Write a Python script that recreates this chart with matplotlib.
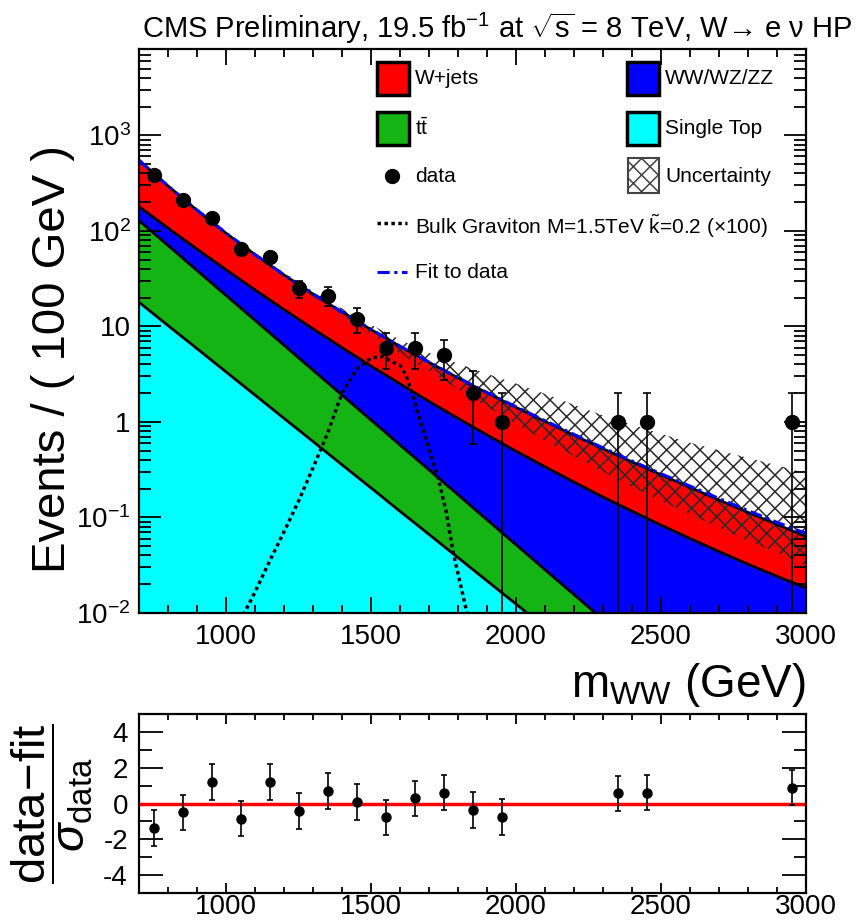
import numpy as np
import matplotlib
matplotlib.use("Agg")
import matplotlib.pyplot as plt
from matplotlib.patches import Rectangle
from matplotlib.lines import Line2D
from matplotlib.ticker import FixedLocator, LogLocator, FuncFormatter, MultipleLocator, NullFormatter

plt.rcParams['font.family'] = ['Liberation Sans', 'DejaVu Sans']
plt.rcParams['mathtext.fontset'] = 'custom'
plt.rcParams['mathtext.rm'] = 'Liberation Sans'
plt.rcParams['mathtext.it'] = 'Liberation Sans:italic'
plt.rcParams['mathtext.bf'] = 'Liberation Sans:bold'
plt.rcParams['hatch.linewidth'] = 1.1
plt.rcParams['axes.unicode_minus'] = False

# mass grid of the background curves (GeV)
mass = [700, 800, 900, 1000, 1100, 1200, 1300, 1400, 1500, 1600, 1700, 1800,
        1900, 2000, 2100, 2200, 2300, 2400, 2500, 2600, 2700, 2800, 2900, 3000]

# background components (events / 100 GeV)
single_top = [17.9, 10.2, 5.85, 3.34, 1.91, 1.09, 0.624, 0.356, 0.204, 0.116, 0.0665, 0.0380,
              0.0217, 0.0124, 0.0071, 0.00406, 0.00232, 0.00132, 7.6e-4, 4.3e-4, 2.5e-4, 1.4e-4, 8.1e-5, 4.6e-5]
ttbar = [110.1, 60.1, 32.65, 17.76, 9.69, 5.26, 2.856, 1.554, 0.843, 0.458, 0.2485, 0.135,
         0.0729, 0.0395, 0.0213, 0.01154, 0.00623, 0.00337, 0.00181, 9.8e-4, 5.2e-4, 2.8e-4, 1.49e-4, 8.1e-5]
diboson = [51.5, 36.6, 25.9, 18.1, 12.5, 8.65, 5.95, 4.08, 2.80, 1.93, 1.325, 0.916,
           0.636, 0.443, 0.311, 0.219, 0.155, 0.1116, 0.0806, 0.0588, 0.0432, 0.0320, 0.0240, 0.0182]
wjets = [370.5, 188.1, 99.6, 55.2, 32.1, 19.5, 12.37, 8.11, 5.40, 3.68, 2.56, 1.80,
         1.28, 0.925, 0.671, 0.489, 0.360, 0.265, 0.196, 0.146, 0.108, 0.0806, 0.0601, 0.0449]

fit = [545, 295, 165, 95, 56.5, 34.6, 21.9, 14.1, 9.3, 6.2, 4.22, 2.9,
       2.03, 1.44, 1.03, 0.74, 0.535, 0.39, 0.287, 0.213, 0.158, 0.118, 0.089, 0.068]
unc_up = [562, 302, 168.7, 97.7, 58.9, 36.6, 23.3, 15.4, 10.4, 7.26, 5.28, 4.08,
          3.19, 2.52, 1.97, 1.51, 1.17, 0.935, 0.752, 0.607, 0.504, 0.420, 0.352, 0.289]
unc_down = [537, 288, 159.6, 91.2, 54.3, 33.0, 20.6, 13.0, 8.24, 5.20, 3.41, 2.19,
            1.44, 0.959, 0.637, 0.437, 0.301, 0.209, 0.150, 0.108, 0.078, 0.0573, 0.0428, 0.0317]

# signal (x100)
grav_mass = [1060, 1100, 1150, 1200, 1250, 1300, 1350, 1400, 1450, 1500, 1540, 1580,
             1600, 1620, 1640, 1660, 1700, 1732, 1760, 1784, 1810, 1830, 1845]
grav_val = [0.00955, 0.0166, 0.0347, 0.0708, 0.148, 0.331, 0.759, 2.0, 3.55, 4.68, 4.84, 4.17,
            3.9, 3.1, 2.1, 1.29, 0.525, 0.257, 0.112, 0.042, 0.019, 0.0103, 0.0063]

# data
data_mass = [750, 850, 950, 1050, 1150, 1250, 1350, 1450, 1550, 1650, 1750, 1850, 1950, 2350, 2450, 2950]
data_counts = [386, 211, 136, 65, 53, 25, 21, 12, 6, 6, 5, 2, 1, 1, 1, 1]
pulls = [-1.36, -0.50, 1.21, -0.84, 1.21, -0.43, 0.69, 0.09, -0.78, 0.28, 0.61, -0.35,
         -0.76, 0.56, 0.61, 0.89]

m = np.array(mass, dtype=float)
c1 = np.array(single_top)
c2 = c1 + np.array(ttbar)
c3 = c2 + np.array(diboson)
c4 = c3 + np.array(wjets)
floor = 1e-4

fig = plt.figure(figsize=(8.59, 9.21), dpi=100)
ax = fig.add_axes([139/859, 308/921, 667/859, 564/921])
rax = fig.add_axes([139/859, 28/921, 667/859, 179/921])

ax.fill_between(m, floor, c1, color='#00ffff', lw=0)
ax.fill_between(m, c1, c2, color='#14b414', lw=0)
ax.fill_between(m, c2, c3, color='#0000ff', lw=0)
ax.fill_between(m, c3, c4, color='#ff0000', lw=0)
for top in (c1, c2, c3, c4):
    ax.plot(m, top, color='black', lw=2)

ax.fill_between(m, unc_down, unc_up, facecolor='none', edgecolor='#2a2a2a', hatch='xx', lw=0)
ax.plot(m, fit, color='#0000ff', lw=2.2, ls=(0, (4, 1.5, 1, 1.5)))
ax.plot(grav_mass, grav_val, color='black', lw=2.5, ls=(0, (1, 1)))

n = np.array(data_counts, dtype=float)
err = np.sqrt(n)
lo = np.minimum(err, n - 1e-5)
ax.errorbar(data_mass, n, yerr=[lo, err], fmt='o', color='black', ms=10,
            capsize=3, elinewidth=1.2, capthick=1.2, zorder=5)

ax.set_yscale('log')
ax.set_xlim(700, 3000)
ax.set_ylim(1e-2, 8000)
ax.xaxis.set_major_locator(MultipleLocator(500))
ax.xaxis.set_minor_locator(MultipleLocator(100))
ax.yaxis.set_major_locator(FixedLocator([1e-2, 1e-1, 1, 10, 100, 1000]))
ax.yaxis.set_minor_locator(LogLocator(base=10, subs=np.arange(2, 10)))
ax.yaxis.set_minor_formatter(NullFormatter())


def ylab(v, pos):
    if v == 1:
        return '1'
    if v == 10:
        return '10'
    return r'10$^{\mathrm{%d}}$' % int(round(np.log10(v)))


ax.yaxis.set_major_formatter(FuncFormatter(ylab))
ax.tick_params(which='both', direction='in', top=True, right=True, labelsize=20, width=1.3)
ax.tick_params(axis='y', which='major', length=16, pad=6)
ax.tick_params(axis='y', which='minor', length=8.5)
ax.tick_params(axis='x', which='major', length=11.5, pad=8)
ax.tick_params(axis='x', which='minor', length=6)
for s in ax.spines.values():
    s.set_linewidth(1.6)

ax.set_ylabel('Events / ( 100 GeV )', fontsize=34)
ax.yaxis.set_label_coords(-0.096, 0.45)
ax.set_xlabel(r'm$_{\mathrm{WW}}$ (GeV)', fontsize=33, ha='right')
ax.xaxis.set_label_coords(1.0, -0.085)

# legend
T = ax.transAxes
boxes = [(0.3568, 0.9184, '#ff0000', 'W+jets'), (0.7316, 0.9184, '#0000ff', 'WW/WZ/ZZ'),
         (0.3568, 0.8298, '#14b414', r'$\mathrm{t\bar{t}}$'), (0.7316, 0.8298, '#00ffff', 'Single Top')]
for bx, by, col, txt in boxes:
    ax.add_patch(Rectangle((bx, by), 0.048, 0.0585, transform=T, facecolor=col,
                           edgecolor='black', lw=2.5, clip_on=False, zorder=6))
    ax.text(bx + 0.057, by + 0.03, txt, transform=T, fontsize=15, va='center', ha='left')
ax.add_patch(Rectangle((0.7331, 0.7447), 0.0465, 0.062, transform=T, facecolor='white',
                       edgecolor='#444444', hatch='xx', lw=1.5, zorder=6))
ax.text(0.7886, 0.7748, 'Uncertainty', transform=T, fontsize=15, va='center', ha='left')
ax.add_line(Line2D([0.3793], [0.7748], transform=T, marker='o', ms=10, color='black'))
ax.text(0.4138, 0.7748, 'data', transform=T, fontsize=15, va='center', ha='left')
ax.add_line(Line2D([0.3568, 0.4018], [0.6915, 0.6915], transform=T, color='black', lw=2.5, ls=(0, (1, 1))))
ax.text(0.4138, 0.6862, r'Bulk Graviton M=1.5TeV $\tilde{\mathrm{k}}$=0.2 ($\times$100)',
        transform=T, fontsize=15, va='center', ha='left')
ax.add_line(Line2D([0.3568, 0.4018], [0.6046, 0.6046], transform=T, color='#0000ff', lw=2.2,
                   ls=(0, (4, 1.5, 1, 1.5))))
ax.text(0.4138, 0.6046, 'Fit to data', transform=T, fontsize=15, va='center', ha='left')

fig.text(142/859, 1 - 28/921,
         r'CMS Preliminary, 19.5 fb$^{\mathrm{-1}}$ at $\sqrt{\mathrm{s}}$ = 8 TeV, W→ e ν HP',
         fontsize=21, ha='left', va='center')

# pull panel
rax.axhline(0, color='red', lw=2.5)
rax.errorbar(data_mass, pulls, yerr=1, fmt='o', color='black', ms=6.5,
             capsize=2.5, elinewidth=1.2, capthick=1.2, zorder=5)
rax.set_xlim(700, 3000)
rax.set_ylim(-5, 5)
rax.xaxis.set_major_locator(MultipleLocator(500))
rax.xaxis.set_minor_locator(MultipleLocator(100))
rax.yaxis.set_major_locator(MultipleLocator(2))
rax.yaxis.set_minor_locator(MultipleLocator(1))
rax.tick_params(which='both', direction='in', top=True, right=True, labelsize=20, width=1.3)
rax.tick_params(axis='y', which='major', length=17, pad=8)
rax.tick_params(axis='y', which='minor', length=9)
rax.tick_params(axis='x', which='major', length=7, pad=1)
rax.tick_params(axis='x', which='minor', length=4.5)
for s in rax.spines.values():
    s.set_linewidth(1.6)
rax.set_ylabel(r'$\dfrac{\mathrm{data\!-\!fit}}{\sigma_{\mathrm{data}}}$', fontsize=34)
rax.yaxis.set_label_coords(-0.066, 0.5)

fig.savefig('out.png', dpi=100)
